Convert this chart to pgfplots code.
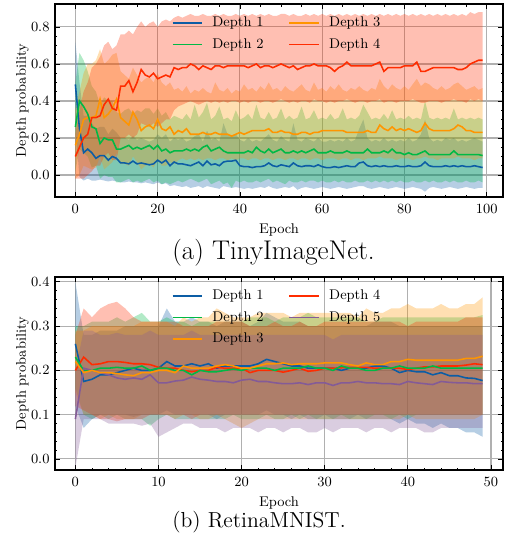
\documentclass[border=0pt]{standalone}
\usepackage{pgfplots}
\pgfplotsset{compat=1.18}
\usepackage{pgfplotstable}
\usepgfplotslibrary{fillbetween}
\definecolor{c1}{HTML}{0C5DA5}
\definecolor{c2}{HTML}{00B945}
\definecolor{c3}{HTML}{FF9500}
\definecolor{c4}{HTML}{FF2C00}
\definecolor{c5}{HTML}{845B97}
\definecolor{gridgray}{HTML}{B0B0B0}

\pgfplotstableread{
e m1 l1 u1 m2 l2 u2 m3 l3 u3 m4 l4 u4
0 0.49 0.26 0.72 0.26 0.02 0.50 0.16 -0.02 0.35 0.10 -0.02 0.22
1 0.25 -0.01 0.50 0.40 0.14 0.66 0.22 0.00 0.45 0.15 -0.02 0.35
2 0.12 -0.03 0.32 0.37 0.12 0.62 0.30 0.05 0.55 0.20 -0.02 0.45
3 0.14 -0.02 0.32 0.33 0.10 0.56 0.31 0.04 0.60 0.22 0.00 0.50
4 0.12 -0.03 0.28 0.26 0.04 0.48 0.31 0.03 0.60 0.31 0.02 0.58
5 0.09 -0.03 0.25 0.25 0.05 0.45 0.32 0.04 0.62 0.31 0.05 0.60
6 0.105 -0.025 0.26 0.17 -0.02 0.38 0.41 0.10 0.68 0.32 0.05 0.64
7 0.105 -0.03 0.26 0.20 0.00 0.42 0.31 0.03 0.60 0.38 0.10 0.70
8 0.08 -0.035 0.22 0.19 -0.01 0.40 0.33 0.05 0.62 0.41 0.12 0.72
9 0.10 -0.03 0.25 0.19 -0.01 0.40 0.36 0.07 0.65 0.36 0.08 0.68
10 0.09 -0.035 0.23 0.14 -0.04 0.34 0.41 0.12 0.66 0.35 0.08 0.70
11 0.065 -0.04 0.20 0.14 -0.04 0.33 0.31 0.06 0.56 0.48 0.20 0.76
12 0.065 -0.04 0.20 0.15 -0.03 0.35 0.29 0.06 0.54 0.48 0.20 0.76
13 0.06 -0.035 0.19 0.16 -0.02 0.36 0.27 0.05 0.52 0.51 0.22 0.78
14 0.075 -0.04 0.21 0.14 -0.04 0.33 0.34 0.10 0.58 0.45 0.20 0.76
15 0.06 -0.04 0.19 0.15 -0.03 0.35 0.30 0.07 0.54 0.50 0.22 0.80
16 0.065 -0.045 0.20 0.14 -0.04 0.34 0.24 0.03 0.50 0.57 0.28 0.83
17 0.06 -0.04 0.19 0.15 -0.03 0.36 0.26 0.05 0.52 0.54 0.27 0.80
18 0.055 -0.045 0.18 0.16 -0.02 0.36 0.27 0.06 0.53 0.53 0.26 0.82
19 0.06 -0.05 0.19 0.14 -0.04 0.33 0.25 0.04 0.50 0.55 0.28 0.83
20 0.08 -0.04 0.22 0.16 -0.03 0.36 0.30 0.08 0.55 0.52 0.26 0.80
21 0.065 -0.05 0.20 0.13 -0.05 0.32 0.25 0.05 0.50 0.53 0.28 0.83
22 0.08 -0.045 0.22 0.14 -0.04 0.34 0.24 0.05 0.48 0.54 0.30 0.84
23 0.05 -0.06 0.18 0.12 -0.05 0.30 0.26 0.07 0.50 0.53 0.30 0.83
24 0.07 -0.055 0.20 0.13 -0.04 0.32 0.22 0.06 0.46 0.58 0.35 0.85
25 0.06 -0.06 0.19 0.13 -0.03 0.31 0.24 0.08 0.47 0.57 0.37 0.86
26 0.06 -0.065 0.20 0.13 -0.04 0.30 0.23 0.09 0.45 0.58 0.38 0.85
27 0.055 -0.06 0.18 0.14 -0.03 0.33 0.25 0.08 0.48 0.58 0.39 0.86
28 0.05 -0.07 0.19 0.13 -0.02 0.30 0.22 0.09 0.44 0.60 0.40 0.87
29 0.06 -0.065 0.21 0.14 -0.03 0.38 0.22 0.08 0.46 0.59 0.39 0.86
30 0.07 -0.06 0.22 0.13 -0.04 0.31 0.22 0.09 0.45 0.57 0.38 0.86
31 0.05 -0.07 0.18 0.15 -0.03 0.34 0.23 0.08 0.47 0.59 0.39 0.87
32 0.075 -0.06 0.24 0.16 -0.02 0.39 0.22 0.09 0.45 0.58 0.40 0.86
33 0.055 -0.065 0.19 0.13 -0.05 0.30 0.22 0.09 0.44 0.57 0.39 0.86
34 0.06 -0.07 0.20 0.14 -0.04 0.32 0.23 0.08 0.50 0.59 0.40 0.87
35 0.05 -0.075 0.18 0.15 -0.03 0.37 0.22 0.09 0.46 0.59 0.39 0.86
36 0.07 -0.06 0.28 0.13 -0.05 0.30 0.22 0.09 0.45 0.58 0.40 0.87
37 0.075 -0.065 0.22 0.12 -0.04 0.31 0.22 0.08 0.47 0.59 0.39 0.86
38 0.075 -0.07 0.21 0.12 -0.07 0.29 0.21 0.09 0.44 0.59 0.40 0.86
39 0.08 -0.065 0.22 0.12 -0.03 0.35 0.22 0.08 0.46 0.59 0.40 0.87
40 0.05 -0.07 0.19 0.12 -0.04 0.30 0.23 0.09 0.45 0.59 0.39 0.86
41 0.045 -0.075 0.18 0.12 -0.03 0.31 0.22 0.09 0.49 0.59 0.40 0.87
42 0.045 -0.07 0.20 0.13 -0.04 0.33 0.23 0.08 0.46 0.58 0.39 0.86
43 0.04 -0.075 0.18 0.12 -0.04 0.30 0.24 0.09 0.47 0.59 0.40 0.87
44 0.045 -0.07 0.19 0.15 -0.03 0.38 0.24 0.09 0.45 0.60 0.40 0.86
45 0.045 -0.065 0.18 0.13 -0.04 0.31 0.24 0.08 0.48 0.58 0.39 0.87
46 0.05 -0.07 0.20 0.12 -0.03 0.30 0.24 0.09 0.46 0.59 0.40 0.86
47 0.065 -0.06 0.22 0.14 -0.02 0.34 0.25 0.09 0.50 0.59 0.40 0.87
48 0.05 -0.07 0.19 0.12 -0.04 0.30 0.23 0.08 0.46 0.58 0.39 0.86
49 0.045 -0.075 0.18 0.13 -0.03 0.31 0.23 0.09 0.47 0.59 0.40 0.86
50 0.055 -0.07 0.21 0.14 -0.04 0.36 0.24 0.09 0.45 0.60 0.41 0.87
51 0.05 -0.065 0.19 0.12 -0.05 0.30 0.23 0.08 0.48 0.59 0.40 0.87
52 0.045 -0.07 0.18 0.12 -0.03 0.32 0.23 0.09 0.46 0.58 0.39 0.86
53 0.065 -0.06 0.28 0.13 -0.04 0.30 0.22 0.09 0.45 0.59 0.40 0.87
54 0.05 -0.08 0.19 0.12 -0.04 0.31 0.22 0.08 0.47 0.57 0.39 0.86
55 0.045 -0.07 0.18 0.13 -0.03 0.37 0.23 0.09 0.49 0.58 0.40 0.86
56 0.05 -0.065 0.20 0.12 -0.04 0.30 0.23 0.09 0.46 0.59 0.40 0.87
57 0.05 -0.07 0.19 0.13 -0.03 0.31 0.22 0.08 0.45 0.59 0.39 0.86
58 0.045 -0.075 0.18 0.14 -0.03 0.35 0.23 0.09 0.50 0.60 0.41 0.87
59 0.055 -0.07 0.20 0.12 -0.04 0.30 0.23 0.09 0.46 0.59 0.40 0.86
60 0.045 -0.065 0.18 0.12 -0.03 0.31 0.24 0.08 0.47 0.59 0.40 0.87
61 0.04 -0.07 0.18 0.12 -0.04 0.30 0.24 0.09 0.45 0.59 0.39 0.86
62 0.04 -0.075 0.19 0.13 -0.04 0.33 0.24 0.09 0.48 0.58 0.40 0.87
63 0.045 -0.07 0.18 0.12 -0.03 0.30 0.24 0.09 0.46 0.56 0.39 0.86
64 0.04 -0.065 0.19 0.12 -0.04 0.31 0.24 0.08 0.49 0.58 0.40 0.87
65 0.045 -0.07 0.18 0.12 -0.03 0.36 0.24 0.09 0.46 0.59 0.40 0.86
66 0.05 -0.075 0.20 0.13 -0.04 0.30 0.23 0.09 0.45 0.61 0.41 0.87
67 0.045 -0.07 0.18 0.12 -0.04 0.31 0.23 0.08 0.47 0.59 0.40 0.86
68 0.045 -0.065 0.19 0.12 -0.03 0.30 0.23 0.09 0.46 0.59 0.39 0.87
69 0.065 -0.06 0.25 0.12 -0.04 0.32 0.23 0.09 0.48 0.59 0.40 0.86
70 0.07 -0.06 0.30 0.12 -0.04 0.38 0.23 0.08 0.46 0.59 0.40 0.87
71 0.05 -0.07 0.20 0.14 -0.03 0.34 0.24 0.09 0.45 0.59 0.39 0.86
72 0.045 -0.075 0.18 0.12 -0.04 0.30 0.23 0.09 0.47 0.59 0.40 0.87
73 0.05 -0.07 0.19 0.12 -0.03 0.31 0.23 0.09 0.46 0.60 0.40 0.86
74 0.045 -0.065 0.18 0.12 -0.04 0.30 0.27 0.10 0.52 0.61 0.41 0.87
75 0.05 -0.07 0.20 0.13 -0.03 0.33 0.25 0.09 0.48 0.56 0.39 0.86
76 0.045 -0.075 0.18 0.12 -0.04 0.30 0.24 0.09 0.46 0.58 0.40 0.87
77 0.045 -0.07 0.19 0.14 -0.03 0.35 0.26 0.09 0.49 0.58 0.40 0.86
78 0.05 -0.065 0.18 0.12 -0.04 0.30 0.24 0.08 0.47 0.58 0.39 0.87
79 0.045 -0.07 0.19 0.12 -0.03 0.31 0.25 0.09 0.46 0.58 0.40 0.86
80 0.045 -0.075 0.18 0.11 -0.04 0.30 0.24 0.09 0.48 0.59 0.40 0.87
81 0.05 -0.07 0.20 0.12 -0.04 0.32 0.25 0.09 0.46 0.59 0.40 0.86
82 0.045 -0.065 0.18 0.11 -0.03 0.30 0.24 0.08 0.49 0.59 0.41 0.87
83 0.045 -0.07 0.19 0.11 -0.04 0.31 0.23 0.09 0.52 0.61 0.40 0.86
84 0.05 -0.075 0.22 0.12 -0.04 0.30 0.24 0.09 0.48 0.56 0.39 0.87
85 0.07 -0.09 0.30 0.13 -0.03 0.40 0.28 0.10 0.50 0.56 0.39 0.86
86 0.05 -0.07 0.20 0.11 -0.04 0.31 0.25 0.09 0.49 0.57 0.40 0.87
87 0.045 -0.065 0.18 0.11 -0.03 0.30 0.24 0.09 0.47 0.58 0.40 0.86
88 0.045 -0.07 0.19 0.11 -0.04 0.31 0.24 0.08 0.46 0.58 0.40 0.87
89 0.045 -0.075 0.18 0.11 -0.04 0.30 0.24 0.09 0.48 0.58 0.39 0.86
90 0.05 -0.07 0.20 0.11 -0.03 0.31 0.24 0.09 0.46 0.58 0.40 0.87
91 0.045 -0.065 0.19 0.11 -0.04 0.30 0.24 0.09 0.47 0.58 0.40 0.86
92 0.05 -0.07 0.20 0.13 -0.03 0.36 0.25 0.09 0.49 0.58 0.41 0.87
93 0.045 -0.075 0.18 0.11 -0.04 0.30 0.27 0.10 0.50 0.57 0.40 0.86
94 0.05 -0.07 0.19 0.11 -0.04 0.31 0.26 0.09 0.48 0.57 0.40 0.87
95 0.045 -0.065 0.18 0.11 -0.03 0.30 0.24 0.09 0.46 0.58 0.39 0.86
96 0.045 -0.07 0.19 0.11 -0.04 0.31 0.24 0.09 0.47 0.60 0.41 0.88
97 0.05 -0.075 0.20 0.11 -0.04 0.30 0.23 0.08 0.48 0.61 0.40 0.87
98 0.045 -0.07 0.19 0.11 -0.03 0.31 0.23 0.09 0.46 0.62 0.41 0.88
99 0.04 -0.07 0.18 0.105 -0.04 0.30 0.23 0.09 0.47 0.62 0.40 0.88
}\toptab

\pgfplotstableread{
e m1 l1 u1 m2 l2 u2 m3 l3 u3 m4 l4 u4 m5 l5 u5
0 0.26 0.12 0.40 0.23 0.16 0.30 0.22 0.15 0.29 0.20 0.12 0.28 0.09 -0.02 0.20
1 0.175 0.07 0.28 0.20 0.10 0.30 0.195 0.10 0.29 0.23 0.11 0.34 0.205 0.09 0.29
2 0.18 0.09 0.28 0.20 0.09 0.31 0.20 0.10 0.30 0.213 0.10 0.32 0.20 0.09 0.29
3 0.19 0.10 0.29 0.205 0.10 0.31 0.195 0.09 0.30 0.215 0.09 0.34 0.195 0.09 0.28
4 0.19 0.10 0.29 0.205 0.09 0.31 0.195 0.10 0.30 0.22 0.09 0.35 0.19 0.08 0.28
5 0.195 0.10 0.29 0.207 0.10 0.32 0.193 0.09 0.30 0.22 0.085 0.355 0.183 0.08 0.285
6 0.20 0.10 0.30 0.205 0.09 0.31 0.19 0.09 0.30 0.218 0.09 0.34 0.18 0.08 0.28
7 0.205 0.095 0.30 0.205 0.09 0.32 0.188 0.09 0.30 0.215 0.09 0.32 0.183 0.08 0.28
8 0.20 0.10 0.30 0.21 0.09 0.33 0.195 0.10 0.31 0.215 0.09 0.31 0.18 0.075 0.28
9 0.20 0.10 0.30 0.20 0.075 0.31 0.195 0.10 0.31 0.213 0.10 0.31 0.19 0.08 0.29
10 0.205 0.10 0.30 0.205 0.09 0.31 0.20 0.10 0.31 0.207 0.10 0.31 0.172 0.05 0.28
11 0.22 0.11 0.34 0.205 0.10 0.32 0.20 0.10 0.31 0.205 0.10 0.31 0.172 0.06 0.28
12 0.21 0.10 0.31 0.20 0.09 0.31 0.195 0.09 0.30 0.205 0.10 0.31 0.176 0.07 0.28
13 0.21 0.10 0.31 0.20 0.09 0.31 0.21 0.10 0.32 0.20 0.10 0.30 0.178 0.08 0.28
14 0.215 0.10 0.32 0.19 0.09 0.30 0.205 0.10 0.31 0.197 0.09 0.30 0.185 0.08 0.29
15 0.21 0.10 0.31 0.20 0.09 0.31 0.205 0.09 0.32 0.20 0.10 0.30 0.18 0.07 0.28
16 0.215 0.10 0.31 0.197 0.09 0.31 0.205 0.09 0.32 0.20 0.10 0.30 0.178 0.07 0.28
17 0.205 0.09 0.30 0.197 0.09 0.31 0.21 0.10 0.34 0.207 0.10 0.31 0.175 0.07 0.28
18 0.21 0.10 0.31 0.20 0.09 0.31 0.213 0.09 0.33 0.205 0.10 0.31 0.175 0.06 0.28
19 0.21 0.10 0.31 0.203 0.10 0.31 0.21 0.08 0.32 0.205 0.10 0.31 0.172 0.07 0.28
20 0.21 0.10 0.31 0.20 0.09 0.31 0.205 0.07 0.32 0.205 0.10 0.31 0.178 0.07 0.28
21 0.21 0.10 0.30 0.205 0.09 0.32 0.205 0.08 0.32 0.195 0.10 0.30 0.18 0.07 0.28
22 0.215 0.10 0.31 0.205 0.09 0.32 0.21 0.09 0.33 0.20 0.10 0.30 0.175 0.06 0.28
23 0.225 0.11 0.33 0.205 0.10 0.32 0.215 0.09 0.33 0.20 0.10 0.30 0.175 0.07 0.28
24 0.22 0.10 0.32 0.20 0.09 0.31 0.215 0.09 0.33 0.20 0.10 0.31 0.172 0.07 0.28
25 0.215 0.10 0.31 0.205 0.09 0.32 0.217 0.09 0.33 0.196 0.10 0.30 0.17 0.06 0.28
26 0.21 0.09 0.31 0.205 0.10 0.32 0.213 0.09 0.32 0.20 0.10 0.30 0.17 0.07 0.28
27 0.21 0.10 0.31 0.205 0.09 0.32 0.215 0.09 0.33 0.205 0.10 0.31 0.172 0.07 0.28
28 0.205 0.09 0.30 0.21 0.10 0.33 0.215 0.09 0.33 0.198 0.10 0.30 0.168 0.06 0.28
29 0.205 0.09 0.30 0.205 0.09 0.32 0.215 0.09 0.33 0.20 0.10 0.30 0.172 0.06 0.28
30 0.205 0.10 0.30 0.205 0.09 0.32 0.217 0.09 0.33 0.205 0.10 0.31 0.172 0.07 0.28
31 0.205 0.09 0.30 0.20 0.09 0.32 0.217 0.09 0.33 0.205 0.10 0.31 0.166 0.06 0.27
32 0.20 0.09 0.30 0.21 0.10 0.32 0.217 0.09 0.33 0.206 0.10 0.31 0.172 0.07 0.28
33 0.205 0.09 0.30 0.205 0.09 0.32 0.213 0.09 0.33 0.207 0.10 0.31 0.172 0.07 0.28
34 0.205 0.10 0.30 0.205 0.09 0.32 0.21 0.09 0.32 0.207 0.10 0.31 0.175 0.07 0.28
35 0.205 0.09 0.30 0.20 0.09 0.31 0.217 0.09 0.34 0.207 0.10 0.31 0.172 0.06 0.28
36 0.21 0.09 0.31 0.20 0.10 0.31 0.213 0.09 0.33 0.205 0.10 0.31 0.172 0.07 0.28
37 0.21 0.09 0.31 0.205 0.10 0.32 0.213 0.09 0.33 0.205 0.10 0.31 0.17 0.07 0.28
38 0.205 0.09 0.31 0.205 0.09 0.32 0.22 0.09 0.34 0.205 0.10 0.31 0.17 0.06 0.28
39 0.195 0.08 0.30 0.21 0.10 0.32 0.22 0.09 0.34 0.205 0.10 0.31 0.168 0.07 0.28
40 0.20 0.09 0.30 0.205 0.09 0.32 0.225 0.10 0.35 0.202 0.10 0.30 0.175 0.07 0.28
41 0.197 0.08 0.30 0.205 0.10 0.32 0.223 0.09 0.34 0.205 0.10 0.31 0.172 0.07 0.28
42 0.197 0.08 0.30 0.205 0.10 0.32 0.223 0.09 0.34 0.208 0.10 0.31 0.17 0.06 0.28
43 0.19 0.07 0.30 0.21 0.10 0.32 0.223 0.09 0.34 0.208 0.10 0.31 0.168 0.06 0.28
44 0.195 0.08 0.30 0.205 0.10 0.32 0.223 0.09 0.35 0.21 0.10 0.31 0.175 0.07 0.28
45 0.188 0.07 0.30 0.205 0.10 0.32 0.223 0.09 0.34 0.21 0.10 0.31 0.173 0.07 0.28
46 0.188 0.07 0.30 0.205 0.10 0.32 0.223 0.09 0.34 0.21 0.10 0.31 0.172 0.07 0.28
47 0.183 0.06 0.30 0.205 0.10 0.32 0.227 0.09 0.35 0.212 0.10 0.32 0.172 0.07 0.28
48 0.182 0.06 0.30 0.205 0.10 0.32 0.227 0.09 0.35 0.215 0.10 0.32 0.17 0.07 0.28
49 0.177 0.05 0.30 0.205 0.10 0.325 0.232 0.10 0.365 0.213 0.10 0.32 0.17 0.07 0.28
}\bottab

\pgfplotsset{
  sciaxis/.style={
    scale only axis, width=286.72pt, height=123.52pt,
    tick align=inside, major tick length=3pt, minor tick length=1.6pt,
    every tick/.style={black, line width=0.5pt},
    grid=major, grid style={color=gridgray, line width=0.7pt},
    axis line style={line width=0.8pt},
    tick label style={font=\fontsize{9}{10}\selectfont},
    label style={font=\fontsize{9}{10}\selectfont},
    xticklabel shift=1.5pt, xlabel shift=-0.5pt, ylabel shift=-5.5pt,
    yticklabel style={/pgf/number format/fixed, /pgf/number format/fixed zerofill, /pgf/number format/precision=1},
    legend style={draw=none, fill=none, font=\fontsize{9}{10}\selectfont, inner sep=0pt,
      at={(0.26,0.95)}, anchor=north west,
      /tikz/every odd column/.append style={column sep=4pt},
      /tikz/every even column/.append style={column sep=14pt}, row sep=2pt},
    legend cell align=left,
    legend image code/.code={\draw[#1] (0pt,0pt) -- (19pt,0pt);},
    legend columns=2,
    xlabel=Epoch, ylabel=Depth probability,
  },
  mline/.style={line width=1pt},
}

\begin{document}
\begin{tikzpicture}
\begin{axis}[sciaxis, name=ax1, at={(0,0)}, anchor=south west,
  xmin=-4.95, xmax=103.95, ymin=-0.119, ymax=0.924,
  xtick={0,20,40,60,80,100}, ytick={0,0.2,0.4,0.6,0.8},
  minor x tick num=3, minor y tick num=3]
\addplot[draw=none, name path=TU1, forget plot] table[x=e,y=u1]{\toptab};
\addplot[draw=none, name path=TL1, forget plot] table[x=e,y=l1]{\toptab};
\addplot[fill=c1, fill opacity=0.3, draw=none, forget plot] fill between[of=TU1 and TL1];
\addplot[draw=none, name path=TU2, forget plot] table[x=e,y=u2]{\toptab};
\addplot[draw=none, name path=TL2, forget plot] table[x=e,y=l2]{\toptab};
\addplot[fill=c2, fill opacity=0.3, draw=none, forget plot] fill between[of=TU2 and TL2];
\addplot[draw=none, name path=TU3, forget plot] table[x=e,y=u3]{\toptab};
\addplot[draw=none, name path=TL3, forget plot] table[x=e,y=l3]{\toptab};
\addplot[fill=c3, fill opacity=0.3, draw=none, forget plot] fill between[of=TU3 and TL3];
\addplot[draw=none, name path=TU4, forget plot] table[x=e,y=u4]{\toptab};
\addplot[draw=none, name path=TL4, forget plot] table[x=e,y=l4]{\toptab};
\addplot[fill=c4, fill opacity=0.3, draw=none, forget plot] fill between[of=TU4 and TL4];
\addplot[color=c1, mline] table[x=e,y=m1]{\toptab};
\addlegendentry{Depth 1}
\addplot[color=c3, mline] table[x=e,y=m3]{\toptab};
\addlegendentry{Depth 3}
\addplot[color=c2, mline] table[x=e,y=m2]{\toptab};
\addlegendentry{Depth 2}
\addplot[color=c4, mline] table[x=e,y=m4]{\toptab};
\addlegendentry{Depth 4}
\end{axis}

\begin{axis}[sciaxis, name=ax2, at={(0,-174.72pt)}, anchor=south west,
  xmin=-2.45, xmax=51.45, ymin=-0.025, ymax=0.411,
  xtick={0,10,20,30,40,50}, ytick={0,0.1,0.2,0.3,0.4},
  minor x tick num=4, minor y tick num=4]
\addplot[draw=none, name path=BU1, forget plot] table[x=e,y=u1]{\bottab};
\addplot[draw=none, name path=BL1, forget plot] table[x=e,y=l1]{\bottab};
\addplot[fill=c1, fill opacity=0.3, draw=none, forget plot] fill between[of=BU1 and BL1];
\addplot[draw=none, name path=BU2, forget plot] table[x=e,y=u2]{\bottab};
\addplot[draw=none, name path=BL2, forget plot] table[x=e,y=l2]{\bottab};
\addplot[fill=c2, fill opacity=0.3, draw=none, forget plot] fill between[of=BU2 and BL2];
\addplot[draw=none, name path=BU3, forget plot] table[x=e,y=u3]{\bottab};
\addplot[draw=none, name path=BL3, forget plot] table[x=e,y=l3]{\bottab};
\addplot[fill=c3, fill opacity=0.3, draw=none, forget plot] fill between[of=BU3 and BL3];
\addplot[draw=none, name path=BU4, forget plot] table[x=e,y=u4]{\bottab};
\addplot[draw=none, name path=BL4, forget plot] table[x=e,y=l4]{\bottab};
\addplot[fill=c4, fill opacity=0.3, draw=none, forget plot] fill between[of=BU4 and BL4];
\addplot[draw=none, name path=BU5, forget plot] table[x=e,y=u5]{\bottab};
\addplot[draw=none, name path=BL5, forget plot] table[x=e,y=l5]{\bottab};
\addplot[fill=c5, fill opacity=0.3, draw=none, forget plot] fill between[of=BU5 and BL5];
\addplot[color=c1, mline] table[x=e,y=m1]{\bottab};
\addlegendentry{Depth 1}
\addplot[color=c4, mline] table[x=e,y=m4]{\bottab};
\addlegendentry{Depth 4}
\addplot[color=c2, mline] table[x=e,y=m2]{\bottab};
\addlegendentry{Depth 2}
\addplot[color=c5, mline] table[x=e,y=m5]{\bottab};
\addlegendentry{Depth 5}
\addplot[color=c3, mline] table[x=e,y=m3]{\bottab};
\addlegendentry{Depth 3}
\end{axis}

\node[anchor=base west, inner sep=0pt, font=\fontsize{17.3}{20}\selectfont] at (74.9pt,-40.3pt) {(a) TinyImageNet.};
\node[anchor=base west, inner sep=0pt, font=\fontsize{13.9}{16}\selectfont] at (74.9pt,-211.2pt) {(b) RetinaMNIST.};
\pgfresetboundingbox
\path[use as bounding box] (-35.2pt,-222.08pt) rectangle (288pt,126.08pt);
\end{tikzpicture}
\end{document}
